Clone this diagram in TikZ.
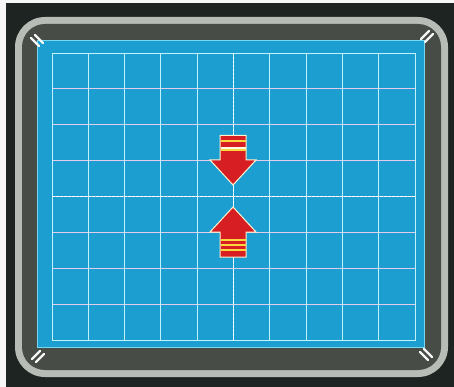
\documentclass[tikz,border=0pt]{standalone}
\definecolor{bgdark}{RGB}{30,36,33}
\definecolor{bezel}{RGB}{184,188,182}
\definecolor{surround}{RGB}{72,76,71}
\definecolor{screenblue}{RGB}{28,158,208}
\definecolor{edgecyan}{RGB}{120,215,240}
\definecolor{vline}{RGB}{195,242,255}
\definecolor{hline}{RGB}{228,205,235}
\definecolor{arrowred}{RGB}{215,30,35}
\definecolor{stripey}{RGB}{250,215,60}
\tikzset{
  cornermark/.style={draw=white!92!gray, line width=2.2pt, line cap=round},
  vgrid/.style={draw=vline, line width=0.9pt},
  hgrid/.style={draw=hline, line width=0.9pt},
  centerline/.style={draw=white, line width=1.3pt, dash pattern=on 2.5pt off 1.5pt},
  arrowbody/.style={fill=arrowred, draw=white!75!stripey, line width=1pt, line join=miter},
}
\begin{document}
\begin{tikzpicture}[x=1pt,y=-1pt]
\useasboundingbox (0,0) rectangle (454,387);
\fill[white!94!gray] (0,0) rectangle (454,387);
\fill[bgdark] (6,3) rectangle (454,387);
% bezel
\fill[bezel] [rounded corners=30pt] (15,17) rectangle (448,377);
\fill[surround] [rounded corners=23pt] (22,24) rectangle (441,370);
% screen
\fill[screenblue] (37,40) rectangle (425,348);
\draw[edgecyan, line width=0.8pt] (37.5,40.5) rectangle (424.5,347.5);
% grid
\foreach \j in {1,...,7} {
  \draw[hgrid] (52,{53+\j*35.875}) -- (415,{53+\j*35.875});
}
\foreach \i in {1,...,9} {
  \draw[vgrid] ({52+\i*36.3},53) -- ({52+\i*36.3},340);
}
\draw[vgrid] (52,53) rectangle (415,340);
% center dashed lines
\draw[centerline] (52,196.5) -- (415,196.5);
\draw[centerline] (233.5,53) -- (233.5,340);
% down arrow
\path[arrowbody] (220,135.5) -- (246,135.5) -- (246,160) -- (256,160) -- (233,185) -- (210,160) -- (220,160) -- cycle;
\fill[stripey] (220.5,140) rectangle (245.5,142.2);
\fill[white!85!stripey] (220.5,146.7) rectangle (245.5,148.7);
\fill[stripey] (220.5,148.7) rectangle (245.5,150.7);
% up arrow
\path[arrowbody] (233,207) -- (256,232) -- (246,232) -- (246,257) -- (220,257) -- (220,232) -- (210,232) -- cycle;
\fill[stripey] (220.5,239) rectangle (245.5,241);
\fill[stripey] (220.5,243.5) rectangle (245.5,246);
\fill[stripey] (220.5,249) rectangle (245.5,251);
% corner marks
\draw[cornermark] (31,38) -- (39,46);
\draw[cornermark] (35,35) -- (43,43);
\draw[cornermark] (421,39) -- (429,31);
\draw[cornermark] (425,42) -- (433,34);
\draw[cornermark] (32,359) -- (40,351);
\draw[cornermark] (36,362) -- (44,354);
\draw[cornermark] (420,352) -- (428,360);
\draw[cornermark] (424,349) -- (432,357);
\end{tikzpicture}
\end{document}
